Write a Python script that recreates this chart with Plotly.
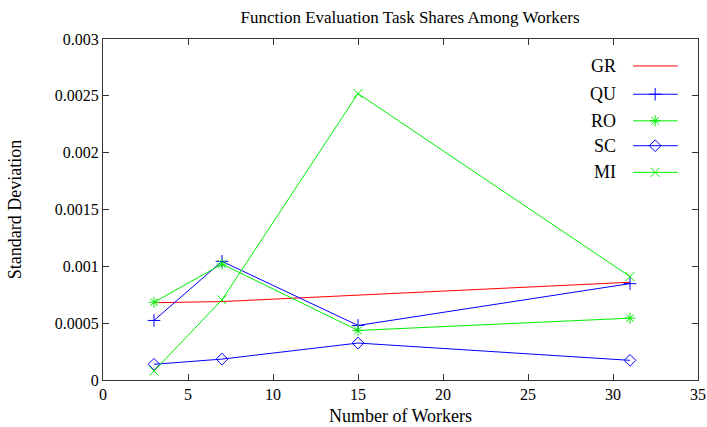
import plotly.graph_objects as go

# Data
workers_gr = [3, 7, 31]
gr = [0.00068, 0.00069, 0.00086]
workers = [3, 7, 15, 31]
qu = [0.000524, 0.001044, 0.00048, 0.000848]
ro = [0.000684, 0.00102, 0.000436, 0.000544]
sc = [0.000138, 0.000184, 0.000325, 0.000173]
mi = [0.00008, 0.000705, 0.00252, 0.00091]

series_names = ["GR", "QU", "RO", "SC", "MI"]
x_ticks = [0, 5, 10, 15, 20, 25, 30, 35]
y_ticks = [0, 0.0005, 0.001, 0.0015, 0.002, 0.0025, 0.003]
y_tick_text = ["0", "0.0005", "0.001", "0.0015", "0.002", "0.0025", "0.003"]

RED, BLUE, GREEN = "#ff0000", "#0000ff", "#00ee00"
styles = {
    "GR": dict(color=RED, symbol=None),
    "QU": dict(color=BLUE, symbol="cross-thin"),
    "RO": dict(color=GREEN, symbol="asterisk"),
    "SC": dict(color=BLUE, symbol="diamond-open"),
    "MI": dict(color=GREEN, symbol="x-thin"),
}
data = {
    "GR": (workers_gr, gr),
    "QU": (workers, qu),
    "RO": (workers, ro),
    "SC": (workers, sc),
    "MI": (workers, mi),
}

FONT = "Liberation Serif, Times New Roman, serif"
fig = go.Figure()

for name in series_names:
    xs, ys = data[name]
    st = styles[name]
    if st["symbol"] is None:
        fig.add_trace(go.Scatter(x=xs, y=ys, mode="lines", name=name,
                                 line=dict(color=st["color"], width=1), showlegend=False))
    else:
        fig.add_trace(go.Scatter(x=xs, y=ys, mode="lines+markers", name=name,
                                 line=dict(color=st["color"], width=1),
                                 marker=dict(symbol=st["symbol"], size=9, color=st["color"],
                                             line=dict(color=st["color"], width=1)),
                                 showlegend=False))

# Gnuplot-style key: text on the left, line sample on the right (in plot-area fractions)
key_rows = [0.921, 0.838, 0.760, 0.687, 0.609]
key_line_x0, key_line_x1, key_mark_x, key_text_x = 0.891, 0.966, 0.928, 0.866
for name, ky in zip(series_names, key_rows):
    st = styles[name]
    fig.add_trace(go.Scatter(x=[key_line_x0, key_line_x1], y=[ky, ky], mode="lines",
                             line=dict(color=st["color"], width=1), xaxis="x2", yaxis="y2",
                             showlegend=False, hoverinfo="skip"))
    if st["symbol"] is not None:
        fig.add_trace(go.Scatter(x=[key_mark_x], y=[ky], mode="markers",
                                 marker=dict(symbol=st["symbol"], size=9, color=st["color"],
                                             line=dict(color=st["color"], width=1)),
                                 xaxis="x2", yaxis="y2", showlegend=False, hoverinfo="skip"))
    fig.add_annotation(x=key_text_x, y=ky, xref="x2", yref="y2", text=name, showarrow=False,
                       xanchor="right", yanchor="middle",
                       font=dict(family=FONT, size=18, color="black"))

axis_common = dict(showgrid=False, zeroline=False, ticks="inside", ticklen=6, tickwidth=1,
                   tickcolor="#333", showline=True, linecolor="#333", linewidth=1,
                   mirror="ticks", automargin=False,
                   tickfont=dict(family=FONT, size=16, color="black"))

fig.update_layout(
    width=707, height=427,
    margin=dict(l=103, r=9, t=39, b=47),
    paper_bgcolor="white", plot_bgcolor="white",
    title=dict(text="Function Evaluation Task Shares Among Workers", x=0.58, xanchor="center",
               y=0.96, yanchor="middle", font=dict(family=FONT, size=17, color="black"),
               automargin=False),
    xaxis=dict(range=[0, 35], tickvals=x_ticks, ticktext=[str(v) for v in x_ticks],
               title=dict(text="Number of Workers", font=dict(family=FONT, size=18, color="black"),
                          standoff=7), **axis_common),
    yaxis=dict(range=[0, 0.003], tickvals=y_ticks, ticktext=y_tick_text,
               title=dict(text="Standard Deviation", font=dict(family=FONT, size=18, color="black"),
                          standoff=28), **axis_common),
    xaxis2=dict(range=[0, 1], overlaying="x", visible=False, anchor="y2"),
    yaxis2=dict(range=[0, 1], overlaying="y", visible=False, anchor="x2"),
    showlegend=False,
)

fig.write_html("out.html")
